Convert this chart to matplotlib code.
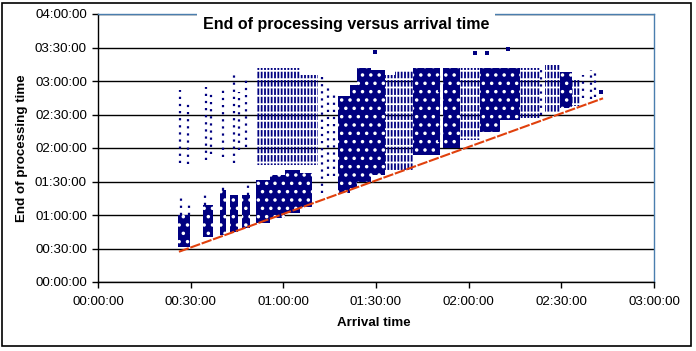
import matplotlib
matplotlib.use("Agg")
import matplotlib.pyplot as plt
from matplotlib.patches import Rectangle
from matplotlib.ticker import FuncFormatter

# ---- data (minutes since 00:00:00) ----
# dense clusters of jobs: arrival range [a0, a1], end-of-processing range [lo, hi]
dense_a0 = [25.9, 34.0, 39.5, 42.7, 46.6, 51.1, 55.7, 60.5, 65.4, 77.7, 81.6, 83.8, 88.5, 102.0, 111.7, 123.7, 130.1, 149.6]
dense_a1 = [29.8, 37.2, 41.4, 45.3, 49.2, 55.7, 60.5, 65.4, 69.3, 81.6, 83.8, 88.5, 93.0, 110.7, 117.2, 130.1, 136.6, 153.4]
dense_lo = [31.0, 40.0, 42.0, 45.0, 48.0, 53.0, 57.5, 62.0, 67.0, 80.0, 84.0, 90.0, 96.0, 114.0, 120.0, 134.0, 145.0, 156.0]
dense_hi = [60.0, 69.0, 82.0, 78.0, 78.0, 91.0, 96.0, 100.0, 98.0, 167.0, 176.0, 192.0, 190.0, 192.0, 192.0, 192.0, 192.0, 188.0]

# medium-density clusters
med_a0 = [51.1, 65.4, 93.0, 96.1, 117.2, 136.6, 144.7, 153.4]
med_a1 = [65.4, 71.2, 96.1, 102.0, 123.7, 143.0, 149.6, 156.0]
med_lo = [105.0, 105.0, 100.0, 100.0, 127.0, 147.0, 152.0, 158.0]
med_hi = [192.0, 185.0, 185.0, 190.0, 192.0, 192.0, 194.0, 181.0]

# sparse streaks: arrival, end-of-processing range
sparse_x = [26.5, 29.0, 35.0, 36.5, 40.5, 44.0, 45.5, 48.0, 27.0, 29.5, 34.5, 40.5, 48.5, 72.5, 74.5, 76.5, 110.5, 143.5, 157.0, 159.5, 161.0]
sparse_lo = [107.0, 106.0, 109.0, 115.0, 112.0, 107.0, 118.0, 121.0, 60.0, 60.0, 69.0, 82.0, 78.0, 80.0, 95.0, 95.0, 125.0, 150.0, 165.0, 164.0, 166.0]
sparse_hi = [172.0, 160.0, 175.0, 168.0, 175.0, 185.0, 170.0, 181.0, 76.0, 72.0, 80.0, 88.0, 88.0, 185.0, 175.0, 170.0, 185.0, 190.0, 185.0, 190.0, 188.0]

# isolated points
out_x = [89.7, 122.0, 126.0, 132.7, 163.0]
out_y = [206.0, 205.0, 205.0, 208.6, 170.0]

# lower bound: end of processing with no waiting
red_x = [26.2, 163.5]
red_y = [27.1, 164.5]

x_ticks = [0, 30, 60, 90, 120, 150, 180]
y_ticks = [0, 30, 60, 90, 120, 150, 180, 210, 240]

title = "End of processing versus arrival time"
xlabel = "Arrival time"
ylabel = "End of processing time"

# ---- drawing ----
plt.rcParams["font.family"] = ["Liberation Sans", "DejaVu Sans"]
plt.rcParams["hatch.linewidth"] = 1.3

W, H = 696, 351
fig = plt.figure(figsize=(W / 100, H / 100), dpi=100)
ax = fig.add_axes([98 / W, 69 / H, 556 / W, 268 / H])

navy = "#000080"
red = "#E0400C"

# dense clusters: navy with a fine white speckle
ax.bar(dense_a0, [h - l for h, l in zip(dense_hi, dense_lo)],
       width=[b - a for a, b in zip(dense_a0, dense_a1)], bottom=dense_lo,
       align="edge", facecolor=navy, edgecolor="white", linewidth=0, hatch="..", zorder=2)
# medium clusters: navy vertical streaks broken into dots
ax.bar(med_a0, [h - l for h, l in zip(med_hi, med_lo)],
       width=[b - a for a, b in zip(med_a0, med_a1)], bottom=med_lo,
       align="edge", facecolor="none", edgecolor=navy, linewidth=0, hatch="|||||", zorder=2)
ax.bar(med_a0, [h - l for h, l in zip(med_hi, med_lo)],
       width=[b - a for a, b in zip(med_a0, med_a1)], bottom=med_lo,
       align="edge", facecolor="none", edgecolor="white", linewidth=0, hatch="--", zorder=2.1)
ax.vlines(sparse_x, sparse_lo, sparse_hi, colors=navy, linewidth=1.6,
          linestyles=(0, (1, 2.2)), zorder=2)
ax.scatter(out_x, out_y, s=6, marker="s", color=navy, linewidths=0, zorder=3)

ax.plot(red_x, red_y, color=red, linewidth=1.5, linestyle=(0, (5, 0.8)), zorder=4)

ax.set_xlim(0, 180)
ax.set_ylim(0, 240)
ax.set_xticks(x_ticks)
ax.set_yticks(y_ticks)

fmt = FuncFormatter(lambda v, p: "%02d:%02d:00" % (int(v) // 60, int(v) % 60))
ax.xaxis.set_major_formatter(fmt)
ax.yaxis.set_major_formatter(fmt)

ax.grid(axis="y", color="black", linewidth=1.0, zorder=1)
ax.set_axisbelow(True)
ax.tick_params(axis="both", direction="out", length=4, width=1, color="black",
               labelsize=9.6, labelcolor="black")
ax.tick_params(axis="x", pad=6)
ax.tick_params(axis="y", pad=4)

for s in ("left", "bottom"):
    ax.spines[s].set_color("black")
    ax.spines[s].set_linewidth(1.0)
for s in ("top", "right"):
    ax.spines[s].set_color("#4A7EAE")
    ax.spines[s].set_linewidth(1.0)

fig.text(346 / W, 1 - 24 / H, title, ha="center", va="center", fontsize=11.5,
         fontweight="bold", bbox=dict(boxstyle="square,pad=0.35", fc="white", ec="none"))
fig.text(374 / W, 1 - 323 / H, xlabel, ha="center", va="center", fontsize=9.6, fontweight="bold")
fig.text(22 / W, 1 - 148 / H, ylabel, ha="center", va="center", rotation=90,
         fontsize=9.6, fontweight="bold")

fig.patches.append(Rectangle((2 / W, 1 - 346 / H), 689 / W, 343 / H, transform=fig.transFigure,
                             fill=False, edgecolor="black", linewidth=1.2))

fig.savefig("out.png", dpi=100)
